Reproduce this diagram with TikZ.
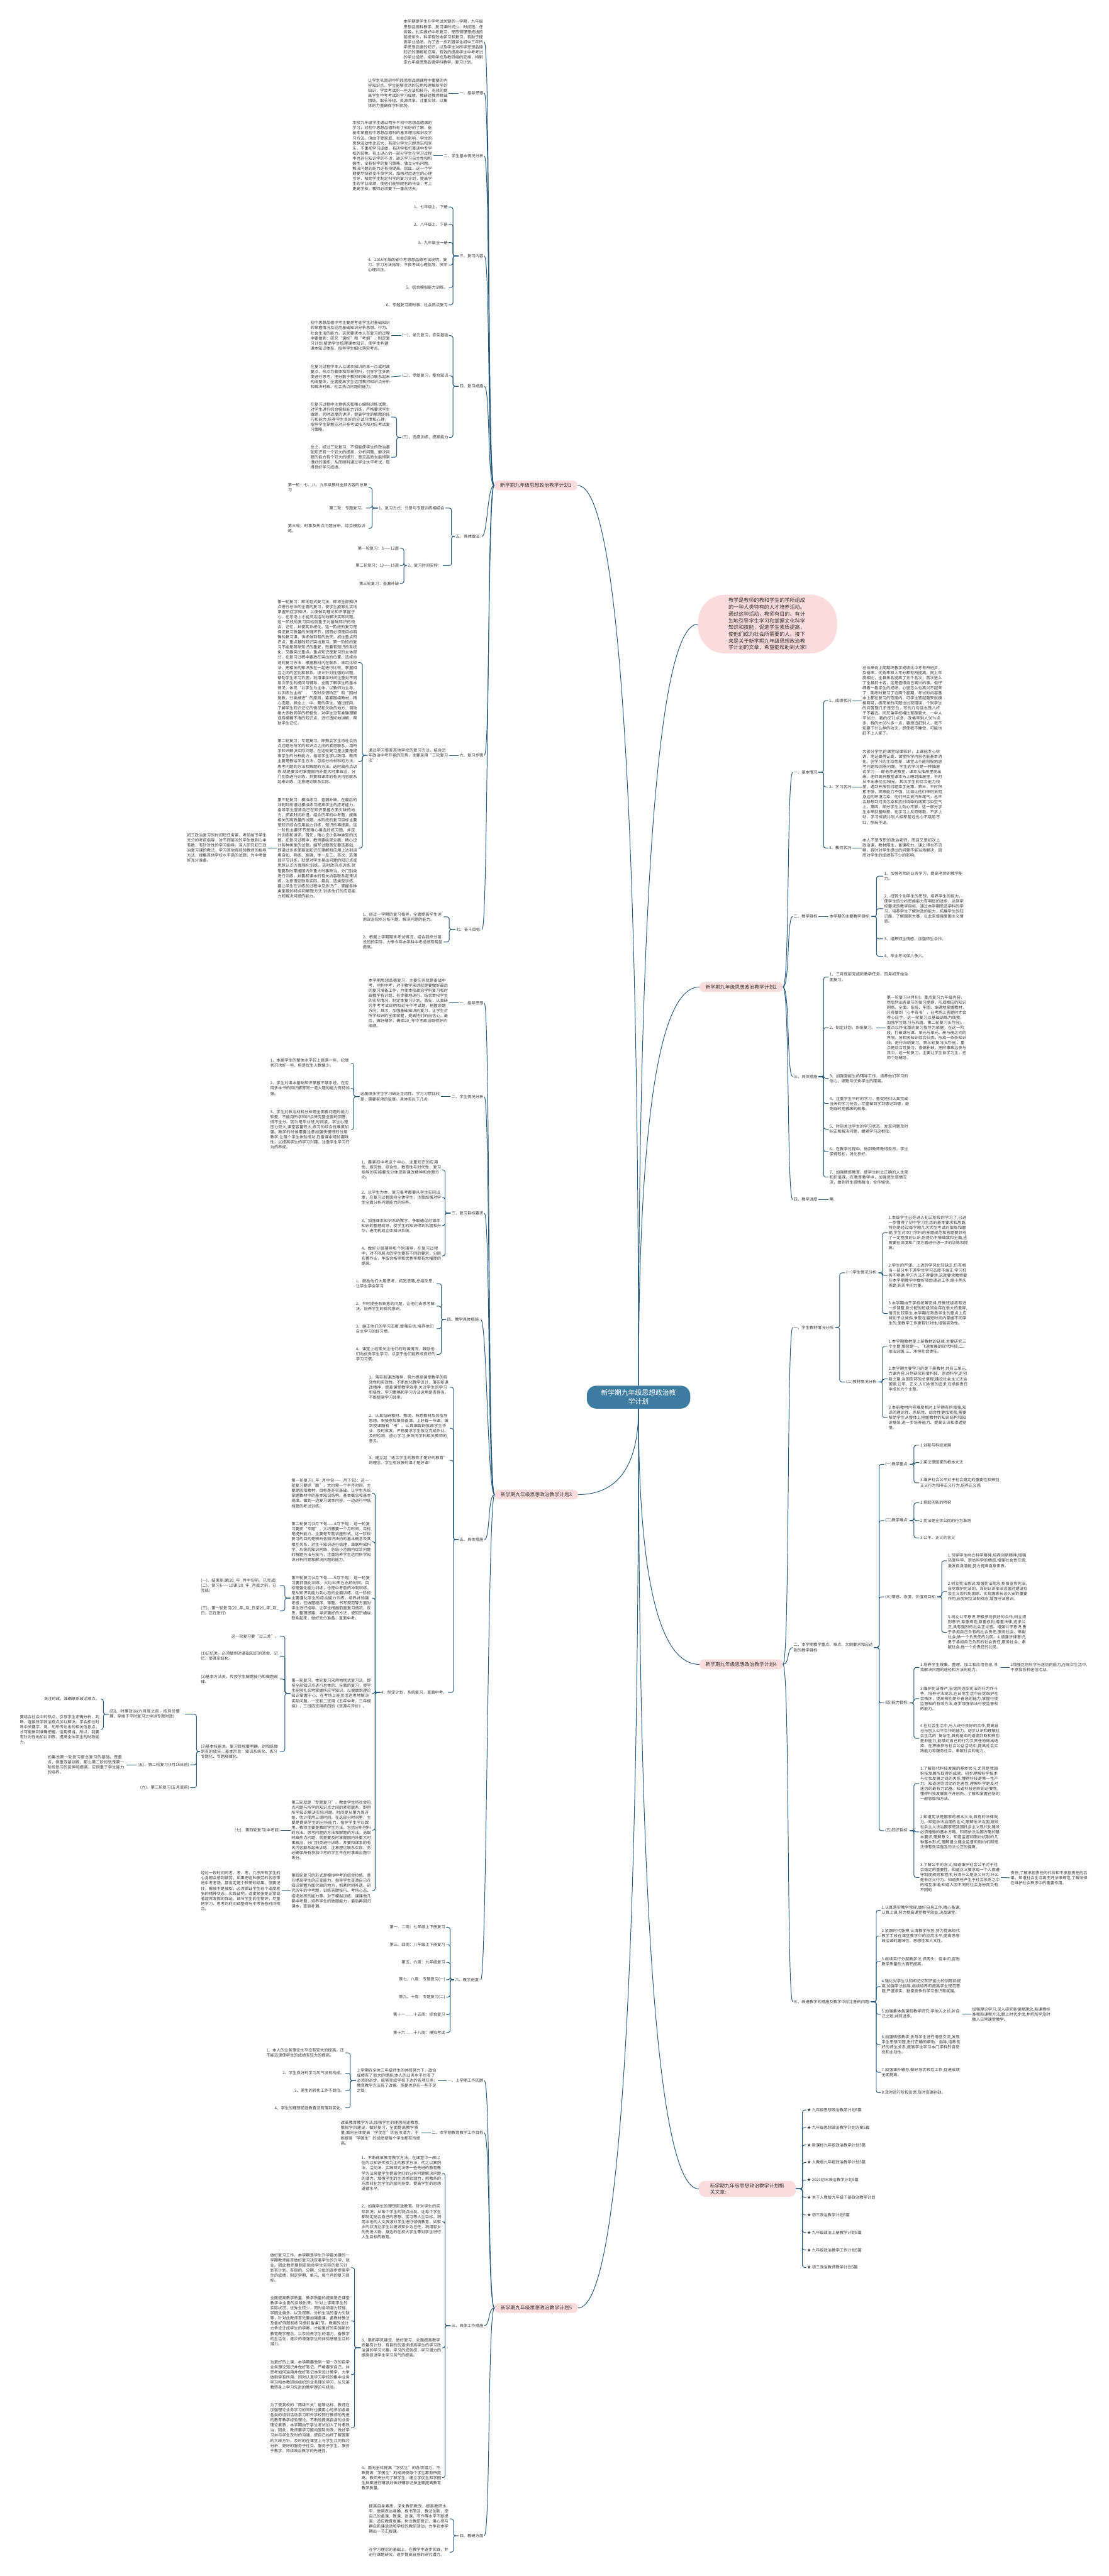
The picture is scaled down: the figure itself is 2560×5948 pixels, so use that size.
\documentclass[tikz,border=0pt]{standalone}
\usepackage{fontspec}
\newfontfamily\cjk{Noto Sans CJK SC}
\XeTeXlinebreaklocale "zh"
\XeTeXlinebreakskip = 0pt plus 1pt
\definecolor{ink}{HTML}{333333}
\definecolor{linec}{HTML}{23577A}
\definecolor{rootc}{HTML}{3E7BA1}
\definecolor{pinkc}{HTML}{FBDCDC}
\tikzset{
  txt/.style={font=\cjk\fontsize{9.15}{11.7}\selectfont, text=ink, inner sep=2pt},
  blk/.style={txt, text width=#1, align=left},
  blk/.default=184pt,
  plan/.style={fill=pinkc, rounded corners=10pt, text=ink, font=\cjk\fontsize{11.3}{14}\selectfont, inner xsep=14pt, inner ysep=6pt},
  rootbox/.style={fill=rootc, text=white, align=center, font=\cjk\fontsize{15.7}{20.4}\selectfont, inner xsep=33pt, inner ysep=9pt, rounded corners=22pt},
  bubble/.style={fill=pinkc, text=ink, align=left, font=\cjk\fontsize{11.8}{15.5}\selectfont, inner xsep=70pt, inner ysep=8pt, rounded corners=62pt},
  link/.style={draw=linec, line width=1.4pt},
  brk/.style={link, rounded corners=5pt},
}
\begin{document}
\begin{tikzpicture}[x=1pt,y=-1pt]
\useasboundingbox[fill=white] (0,0) rectangle (2560,5948);

% centre and main branches
\node[rootbox] (root) at (1474,3226) {新学期九年级思想政治教\\学计划};
\node[bubble] (intro) at (1772,1441) {教学是教师的教和学生的学所组成\\的一种人类特有的人才培养活动。\\通过这种活动，教师有目的、有计\\划地引导学生学习和掌握文化科学\\知识和技能，促进学生素质提高，\\使他们成为社会所需要的人。接下\\来是关于新学期九年级思想政治教\\学计划的文章，希望能帮助到大家!};
\node[plan] (pA) at (1237,1121) {新学期九年级思想政治教学计划1};
\node[plan] (pB) at (1711,2279) {新学期九年级思想政治教学计划2};
\node[plan] (pC) at (1238,3451) {新学期九年级思想政治教学计划3};
\node[plan] (pD) at (1711,3843) {新学期九年级思想政治教学计划4};
\node[plan] (pE) at (1238,5329) {新学期九年级思想政治教学计划5};
\node[plan, anchor=west, text width=172pt, align=left, inner xsep=26pt, rounded corners=14pt] (rel) at (1613,5054) {新学期九年级思想政治教学计划相关文章:};

\draw[link] (root.north) .. controls (1474,2056) and (1520,1441) .. (intro.west);
\draw[link] (root.north) .. controls (1474,1848) and (1428,1121) .. (pA.east);
\draw[link] (root.north) .. controls (1474,2600) and (1520,2279) .. (pB.west);
\draw[link] (root.south) .. controls (1474,3382) and (1428,3451) .. (pC.east);
\draw[link] (root.south) .. controls (1474,3637) and (1520,3843) .. (pD.west);
\draw[link] (root.south) .. controls (1474,4424) and (1520,5054) .. (rel.west);
\draw[link] (root.south) .. controls (1474,4603) and (1428,5329) .. (pE.east);

% plan 1
\node[blk, anchor=east] (a0) at (1118,97) {本学期是学生升学考试关键的一学期，九年级思想品德科教学、复习课时间少、时间短、任务紧。扎实搞好中考复习，是取得理想成绩的前提条件，科学有效地学习和复习，有助于提高学业成绩。为了进一步巩固学生初中三年所学思想品德的知识，以及学生对所学思想品德知识的理解和应用，有效的提高学生中考考试的学业成绩，按照学校及教研组的安排，特制定九年级思想品德学科教学、复习计划。};
\node[txt, anchor=east] (a1) at (1118,215) {一、指导思想};
\node[blk, anchor=east] (a1t) at (1036,215) {让学生巩固初中阶段思想品德课程中重要的内容知识点，学生能够灵活的应用和理解所学的知识，学会考试的一些方法和技巧，有效的提高学生中考考试的学习成绩。教研组教师精诚团结、取长补短、资源共享、注重实效，以集体的力量确保学科优势。};
\node[txt, anchor=east] (a2) at (1118,360) {二、学生基本情况分析};
\node[blk, anchor=east] (a2t) at (1000,360) {本校九年级学生通过两年半初中思想品德课的学习，对初中思想品德科有了较好的了解，能基本掌握初中思想品德科的基本理论知识及学习方法。但由于受家庭、社会的影响，学生的思想波动性比较大，有部分学生只顾贪玩和享乐，不重视学习成绩，有厌学和打算读中专学校的现象。有上进心的一部分学生在学习过程中也存在知识学的不活，缺乏学习自主性和积极性，没有科学的复习策略，独立分析问题、解决问题的能力还有待提高。因此，这一个学期要尽快转变不良学风，加强对后进生的心理引导，帮助学生制定科学的复习计划，提高学生的学业成绩，使他们能够顺利的毕业，考上更高学校，教师必须要下一番苦功夫。};
\node[txt, anchor=east] (a3) at (1118,591) {三、复习内容};
\node[txt, anchor=east] (a31) at (1036,478) {1、七年级上、下册};
\node[txt, anchor=east] (a32) at (1036,518) {2、八年级上、下册};
\node[txt, anchor=east] (a33) at (1036,560) {3、九年级全一册};
\node[blk, anchor=east] (a34) at (1036,612) {4、2015年海南省中考思想品德考试说明，复习、学习方法指导，不良考试心理指导，厌学心理纠正。};
\node[txt, anchor=east] (a35) at (1036,664) {5、综合模拟能力训练。};
\node[txt, anchor=east] (a36) at (1036,704) {6、专题复习和时事、社会热点复习};
\node[txt, anchor=east] (a4) at (1118,892) {四、复习措施};
\node[txt, anchor=east] (a41) at (1037,775) {(一)、单元复习，夯实基础};
\node[blk, anchor=east] (a41t) at (903,775) {初中思想品德中考主要是考查学生对基础知识的掌握情况及应用基础知识分析思想、行为、社会生活的能力。这就要求本人在复习的过程中要做到：研究“课标”和“考纲”，制定复习计划;帮助学生梳理课本知识，使学生构建课本知识体系，指导学生细化落实考点。};
\node[txt, anchor=east] (a42) at (1037,868) {(二)、专题复习，整合知识};
\node[blk, anchor=east] (a42t) at (903,870) {在复习过程中本人以课本知识的某一点或时政要点、热点为载体和背景材料，引导学生多角度进行思考，把分散于教材的知识点联系起来构成整体，全面提高学生运用教材知识点分析和解决时政、社会热点问题的能力。};
\node[txt, anchor=east] (a43) at (1037,1010) {(三)、适度训练，提高能力};
\node[blk, anchor=east] (a43a) at (903,963) {在复习过程中注意挑选和精心编制训练试题，对学生进行综合模拟能力训练，严格要求学生做题，同时适度的讲评，提高学生的解题的技巧和能力;培养学生良好的应试习惯和心理，指导学生掌握应对开卷考试技巧和对应考试复习策略。};
\node[blk, anchor=east] (a43b) at (903,1056) {总之，经过三轮复习，不但能使学生的政治基础知识有一个较大的提高，分析问题、解决问题的能力有个较大的提升，意志品质也能得到很好的锻炼，从而顺利通过学业水平考试，取得良好学习成绩。};
\node[txt, anchor=east] (a5) at (1112,1239) {五、具体做法:};
\node[txt, anchor=east] (a51) at (1028,1173) {1、复习方式：分册与专题训练相结合};
\node[blk, anchor=east] (a511) at (851,1126) {第一轮：七、八、九年级教材全部内容的总复习};
\node[txt, anchor=east] (a512) at (845,1173) {第二轮：专题复习。};
\node[blk, anchor=east] (a513) at (851,1220) {第三轮：时事及热点问题分析，综合模拟训练。};
\node[txt, anchor=east] (a52) at (1022,1306) {2、复习时间安排：};
\node[txt, anchor=east] (a521) at (923,1266) {第一轮复习：3——12周};
\node[txt, anchor=east] (a522) at (923,1306) {第二轮复习：13——15周};
\node[txt, anchor=east] (a523) at (923,1347) {第三轮复习：查漏补缺};
\node[txt, anchor=east] (a6) at (1118,1744) {六、复习步骤};
\node[blk, anchor=east] (a6t) at (1037,1744) {通过学习借鉴其他学校的复习方法，结合近年政治中考开卷的形势，主要采用“三轮复习法”：};
\node[blk, anchor=east] (a61) at (827,1530) {第一轮复习：即地毯式复习法，即将全部知识点进行总体的全面的复习，使学生能够扎实地掌握所应学知识，以便做到理论知识掌握于心，在考场上才能灵活运动地解决实际问题。这一阶段的复习目标侧重于对基础知识的领会、记忆，并使其系统化。这一阶段的复习是保证复习质量的关键环节，因而必须是目标明确的复习课，讲练做到有的放矢。抓住重点知识点，重点基础知识突出复习。第一阶段的复习不能是简单知识的重复，既要有知识的系统化，又要突出重点。重点知识是复习的主体部分，在复习过程中要放在突出的位置。选择合适的复习方法：根据教材内在联系，采用比较法，把相关的知识放在一起进行比较，掌握相互之间的区别和联系。设计针对性强的试题，帮助学生练习巩固，利用课余时间注重对不同层次学生的提问与辅导，全面了解学生的基本情况，体现“以学生为主体，以教师为主导，以训练为主线”，“及时反馈矫正”和“因材施教，分类推进”的原则，紧紧围绕教材，精心选题，顾全上、中、差的学生。通过提问，了解学生知识记忆的情况和欠缺的地方，调动绝大多数同学的积极性，对学生没有准确理解或有模糊不清的知识点，进行透彻地讲解，帮助学生记忆。};
\node[blk, anchor=east] (a62) at (827,1758) {第二轮复习：专题复习。即教会学生将社会热点问题与所学的知识点之间的紧密联系，用所学知识解决实际问题。在这轮复习里主要是提高学生的分析能力，指导学生学以致用。教师主要是教给学生方法，包括分析材料的方法，思考问题的方法和解题的方法。选时政热点训练.就是要及时掌握国内外重大时事政治，分门别类进行训练，并要和课本的有关内容联系起来训练，注意理论联系实际。};
\node[blk, anchor=east] (a63) at (827,1958) {第三轮复习：模拟练习、查漏补缺。在最后的冲刺阶段通过模拟练习提高学生的应考能力，指导学生查清自己在知识掌握方面欠缺的地方，抓紧时间补遗。结合历年的中考题，搜集相关的高质量的试题。本阶段的复习目标主要是知识综合应用能力训练，知识的再提高。这一阶段主要环节是精心编选好练习题，并定时训练和讲评。首先，精心设计各种类型的试题。在复习过程中，教师要纵观全面，精心设计各种类型的试题。编写试题首先要选基础，即通过多练使基础知识在理解和应用上达到运用自如、熟练、准确，举一反三。其次，选薄弱环节训练，就是对学生易出问题的知识点或思想认识方面强化训练。选时政热点训练.就是要及时掌握国内外重大时事政治，分门别类进行训练，并要和课本的有关内容联系起来训练，注意理论联系实际。最后，选类型训练，要让学生在训练的过程中见多识广，掌握各种类型题的特点和解题方法.训练他们的应变能力和解决问题的能力。};
\node[blk, anchor=east] (a63t) at (618,1958) {初三政治复习的时间短任务紧，考前给予学生充分的考前指导，对不同层次的学生做到心中有数，有针对性的学习指导。深入研究初三政治复习课的教法，学习其他有经验教师的指导方法，搜集其他学校水平高的试题，为中考做好充分准备。};
\node[txt, anchor=east] (a7) at (1113,2146) {七、奋斗目标:};
\node[blk, anchor=east] (a71) at (1024,2117) {1、经过一学期的复习指导，全面提高学生运用政治观点分析问题、解决问题的能力。};
\node[blk, anchor=east] (a72) at (1024,2175) {2、根据上学期期末考试情况，结合我校分层设班的实际，力争今年本学科中考成绩有明显提高。};

\foreach \c in {a0,a1,a2,a3,a4,a5,a6,a7}
  \draw[link] (pA.west) .. controls +(-16,0) and +(14,0) .. (\c.east);
\draw[link] (a1.west) -- (a1t.east);
\draw[link] (a2.west) -- (a2t.east);
\foreach \c in {a31,a32,a33,a34,a35,a36}
  \draw[brk] (a3.west) -- ++(-13,0) |- (\c.east);
\foreach \c in {a41,a42,a43}
  \draw[brk] (a4.west) -- ++(-13,0) |- (\c.east);
\draw[link] (a41.west) -- (a41t.east);
\draw[link] (a42.west) -- (a42t.east);
\foreach \c in {a43a,a43b}
  \draw[brk] (a43.west) -- ++(-10,0) |- (\c.east);
\foreach \c in {a51,a52}
  \draw[brk] (a5.west) -- ++(-8,0) |- (\c.east);
\foreach \c in {a511,a512,a513}
  \draw[brk] (a51.west) -- ++(-13,0) |- (\c.east);
\foreach \c in {a521,a522,a523}
  \draw[brk] (a52.west) -- ++(-7,0) |- (\c.east);
\draw[link] (a6.west) -- (a6t.east);
\foreach \c in {a61,a62,a63}
  \draw[brk] (a6t.west) -- ++(-12,0) |- (\c.east);
\draw[link] (a63.west) -- (a63t.east);
\foreach \c in {a71,a72}
  \draw[brk] (a7.west) -- ++(-14,0) |- (\c.east);

% plan 2
\node[txt, anchor=west] (b1) at (1830,1783) {一、基本情况};
\node[txt, anchor=west] (b11) at (1912,1618) {1、成绩状况};
\node[blk, anchor=west] (b11t) at (1989,1618) {总体来说上期期终教学成绩比中考有所进步，及格率、优秀率和人平分都有所提高。同上年度相比，全县排名提高了五个名次，首次进入了全县前十名，这是值得自己高兴的事。但仔细看一看学生的成绩，心里怎么也高兴不起来了：期考时复习了近两个星期，考试的内容基本上都在复习的范围内，可学生答起题来就模棱两可，极简单的问题也出现错误，个别学生的问答题几乎是空白，写的几句话也是八杆子不着边。同兄弟学校相比差距更大，一中人平86分，我的仅71点多，及格率别人96\%点多，我的才80\%多一点，要想追赶别人，我不知要下什么样的功夫，即使我不睡觉，可能也赶不上人家了。};
\node[txt, anchor=west] (b12) at (1912,1817) {2、学习状况};
\node[blk, anchor=west] (b12t) at (1989,1817) {大部分学生的课堂纪律较好，上课能专心听讲，笔记做得认真，课堂所学内容也能基本消化。但学习的主动性差，课堂上不能积极地思考问题和回答问题。学生的学习是一种抽屉式学习——即老师进教室，课本从抽屉里爬出来，老师离开教室课本马上睡到抽屉里，平时从不出来见见阳光。其次学生的综合能力较差，遇到开放性问题束手无策。第三，平时积累不够，观察能力不强，比如让他们举例说明身边的环境污染，他们只会说汽车尾气，总不会联想到河流污染和农村烧柴的烟雾污染空气上。第四，部分学生上劲心不够，这一部分学生本来就基础差，在学习上反而懒散，不求上劲，学习成绩比别人相差甚远也心不跳脸不红，照玩不误。};
\node[txt, anchor=west] (b13) at (1912,1958) {3、教师状况};
\node[blk, anchor=west] (b13t) at (1989,1958) {本人不是专职的政治老师，而且又是初次上政治课，教材陌生，备课吃力，课上得也不流畅，有时对学生提出的问题不能当场解决，因而对学生的成绩有不少的影响。};
\node[txt, anchor=west] (b2) at (1830,2116) {二、教学目标};
\node[txt, anchor=west] (b2t) at (1913,2116) {本学期的主要教学目标:};
\node[blk, anchor=west] (b21) at (2039,2023) {1、加强老师的业务学习，提高老师的教学能力。};
\node[blk, anchor=west] (b22) at (2039,2098) {2、扭转个别学生的思想，培养学生的能力，使学生的分析思维能力有明显的进步，达到学校要求的教学目标，通过本学期思品学科的学习，培养学生了解时政的能力，拓展学生的知识面，了解国家大事，以此来增强爱国主义情感。};
\node[txt, anchor=west] (b23) at (2039,2168) {3、培养师生情感，加强师生合作。};
\node[txt, anchor=west] (b24) at (2039,2208) {4、毕业考试保八争六。};
\node[txt, anchor=west] (b3) at (1830,2486) {三、具体措施};
\node[blk, anchor=west] (b31) at (1913,2256) {1、三月底前完成新教学任务，四月初开始全面复习。};
\node[txt, anchor=west] (b32) at (1913,2373) {2、制定计划，系统复习。};
\node[blk, anchor=west] (b32t) at (2045,2373) {第一轮复习(4月份)。重点复习九年级内容，然后列出各章节的复习提纲，形成相应的知识网络，全面、系统、牢固、准确地掌握教材，只有做到“心中有书”，在考场上答题时才会得心应手。这一轮复习以基础训练为线索，加强学生练习与巩固。第二轮复习(5月份)。重点以怀化版的复习指导为依据，在这一阶段，打破课与课、单元与单元、册与册之间的界限，将相关知识综合归类，形成一条条知识线，进行归纳复习。第三轮复习(6月份)。重点是综合性复习，查漏补缺，把时事政治参与其中。这一轮复习，主要让学生自学为主，老师个别辅导。};
\node[blk, anchor=west] (b33) at (1913,2490) {3、加强潜能生的辅导工作，培养他们学习的信心，缩短与优秀学生的距离。};
\node[blk, anchor=west] (b34) at (1913,2548) {4、注重学生平时的学习，督促他们认真完成当天的学习任务，尽量做到学到哪记到哪，避免临时抱佛脚的现象。};
\node[blk, anchor=west] (b35) at (1913,2607) {5、时刻关注学生的学习状态，发现问题及时纠正和解决问题，绷紧学习这根弦。};
\node[blk, anchor=west] (b36) at (1913,2659) {6、在教学过程中，做到教师教得自然，学生学得轻松，消化良好。};
\node[blk, anchor=west] (b37) at (1913,2718) {7、加强情感教育，使学生树立正确的人生观和价值观。在教育教学中，加强师生感情交流，做到师生感情融洽，合作愉快。};
\node[txt, anchor=west] (b4) at (1830,2770) {四、教学进度};
\node[txt, anchor=west] (b4t) at (1913,2770) {略};

\foreach \c in {b1,b2,b3,b4}
  \draw[link] (pB.east) .. controls +(16,0) and +(-14,0) .. (\c.west);
\foreach \c in {b11,b12,b13}
  \draw[brk] (b1.east) -- ++(12,0) |- (\c.west);
\draw[link] (b11.east) -- (b11t.west);
\draw[link] (b12.east) -- (b12t.west);
\draw[link] (b13.east) -- (b13t.west);
\draw[link] (b2.east) -- (b2t.west);
\foreach \c in {b21,b22,b23,b24}
  \draw[brk] (b2t.east) -- ++(12,0) |- (\c.west);
\foreach \c in {b31,b32,b33,b34,b35,b36,b37}
  \draw[brk] (b3.east) -- ++(12,0) |- (\c.west);
\draw[link] (b32.east) -- (b32t.west);
\draw[link] (b4.east) -- (b4t.west);

% plan 4
\node[txt, anchor=west] (d1) at (1830,3065) {一、学生教材情况分析:};
\node[txt, anchor=west] (d11) at (1951,2939) {(一)学生情况分析:};
\node[blk, anchor=west] (d111) at (2049,2846) {1.本级学生已经进入初三阶段的学习了,已进一步懂得了初中学习生活的基本要求和思路,特别是经过每学期几次大型考试的锻炼和磨砺,学生对本门学科的答题规范和答题要领有了一定程度的认识,但是仍不够细致和全面,还需要在深度和广度方面进行进一步的训练和提高。};
\node[blk, anchor=west] (d112) at (2049,2945) {2.学生的严谨、上进的学风比较缺乏,仍有相当一部分中下游学生学习态度不端正,学习任务不明确,学习方法不得要领,这就要求教师要在本学期教学中做好转后递进工作,缩小两头差距,充实中间力量。};
\node[blk, anchor=west] (d113) at (2049,3033) {3.本学期由于学校统筹安排,所教班级将有进一步调整,新分配的班级间会存在很大的差异,情况比较陌生,本学期在熟悉学生的重点上应特别予以倾斜,争取在最短时间内掌握不同学生的,使教学工作更有针对性,增强实效性。};
\node[txt, anchor=west] (d12) at (1951,3191) {(二)教材情况分析:};
\node[blk, anchor=west] (d121) at (2049,3109) {1.本学期教材是上册教材的延续,主要研究三个主题,那就是一、飞速发展的现代科技;二、依法治国;三、承担社会责任。};
\node[blk, anchor=west] (d122) at (2049,3184) {2.本学期主要学习的是下册教材,共有三单元,六课内容,分别研究热爱科技、崇尚科学,走创新之路;治国安邦的总章程;建设社会主义法治国家;公平、正义,人们永恒的追求;在承担责任中成长六个主题。};
\node[blk, anchor=west] (d123) at (2049,3273) {3.本册教材内容难度相对上学期有所增强,知识的理论性、系统性、综合性更加紧密,需要帮助学生从整体上把握教材的知识结构和知识框架,进一步培养能力、提高认识和渗透觉悟。};
\node[blk=183pt, anchor=west] (d2) at (1830,3804) {二、本学期教学重点、难点、大纲要求和应达到的教学目标};
\node[txt, anchor=west] (d21) at (2041,3381) {(一)教学重点:};
\node[txt, anchor=west] (d211) at (2122,3337) {1.创新与科技发展};
\node[txt, anchor=west] (d212) at (2122,3377) {2.宪法是国家的根本大法};
\node[blk, anchor=west] (d213) at (2122,3424) {3.维护社会公平对于社会稳定的重要性和辨别正义行为和非正义行为,培养正义感};
\node[txt, anchor=west] (d22) at (2041,3511) {(二)教学难点:};
\node[txt, anchor=west] (d221) at (2122,3470) {1.搭起创新的桥梁};
\node[txt, anchor=west] (d222) at (2122,3511) {2.宪法是全体公民的行为准则};
\node[txt, anchor=west] (d223) at (2122,3551) {3.公平、正义的含义};
\node[txt, anchor=west] (d23) at (2041,3687) {(三)情感、态度、价值观目标:};
\node[blk, anchor=west] (d231) at (2186,3604) {1.引导学生树立科学精神,培养创新精神,增强热爱科学、崇尚科学的情感,增强社会责任感,激发自身潜能,努力提高自身素质。};
\node[blk, anchor=west] (d232) at (2186,3675) {2.树立宪法意识,增强宪法观念,积极宣传宪法,自觉维护宪法的，深刻认识依法治国对建设社会主义现代化国家、实现国家长治久安的重要作用,自觉树立法制观念,增强守法意识。};
\node[blk, anchor=west] (d233) at (2186,3769) {3.树立公平意识,积极参与良好的合作,树立规则意识,尊重规则,尊重权利,尊重法律,追求公正,具有强烈的社会正义感。增强公平意识,勇于承担自己负有的社会责任,服务社会、奉献社会,做一个负责任的公民。4.增强法律意识,勇于承担自己负有的社会责任,服务社会、奉献社会,做一个负责任的公民。};
\node[txt, anchor=west] (d24) at (2041,3932) {(四)能力目标:};
\node[blk, anchor=west] (d241) at (2122,3850) {1.培养学生搜集、整理、加工和应用信息,寻找解决问题的途径和方法的能力。};
\node[blk=178pt, anchor=west] (d241t) at (2331,3850) {2增强区别科学与迷信的能力,在现实生活中,不参加各种迷信活动。};
\node[blk, anchor=west] (d242) at (2122,3922) {3.维护宪法尊严,自觉同违反宪法的行为作斗争，培养守法观念,在日常生活中自觉维护社会秩序，提高辨别是非善恶的能力,掌握行使监督权的有效方法,逐步增强依法行使监督权的能力。};
\node[blk, anchor=west] (d243) at (2122,4014) {4.在社会生活中,与人进行良好的合作,提高自己与别人公平合作的能力。初步认识和理解社会生活的`复杂性,具有基本的道德判断和辨别是非能力,能够对自己的行为负责任地做出选择，在积极参与社会公益活动中,提高社会实践能力和服务社会、奉献社会的能力。};
\node[txt, anchor=west] (d25) at (2041,4227) {(五)知识目标:};
\node[blk, anchor=west] (d251) at (2122,4118) {1.了解现代科技发展的基本状况,尤其是我国科技发展所取得的成就。初步理解科学技术与社会发展之间的关系,懂得科技是第一生产力。知道迷信活动的危害性,理解科学是反对迷信的最有力武器。知道科技创新的必要性,懂得科技发展离不开创新，了解和掌握创新的一般思维和方法。};
\node[blk, anchor=west] (d252) at (2122,4230) {2.知道宪法是国家的根本大法,具有的法律效力。知道依法治国的含义,理解依法治国,建设社会主义法治国家是我国社会主义现代化建设必须遵循的基本方略，知道依法治国方略的基本要求,理解意义。知道监督和制约机制的几种基本形式,理解建立健全监督和制约机制是法律有效实施及司法公正的保障。};
\node[blk, anchor=west] (d253) at (2122,4335) {3.了解公平的含义,知道维护社会公平对于社会稳定的重要性。知道正义要求每一个人都遵守制度规则和程序,分清什么是正义行为,什么是非正义行为。知道责任产生于社会关系之中的相互承诺,知道人因不同的社会身份而负有不同的};
\node[blk=178pt, anchor=west] (d253t) at (2331,4336) {责任,了解承担责任的代价和不承担责任的后果。知道社会生活离不开法律规范,了解法律在维护社会秩序中的重要作用。};
\node[txt, anchor=west] (d3) at (1830,4622) {三、改进教学的措施及教学中应注意的问题:};
\node[blk, anchor=west] (d31) at (2033,4411) {1.认真落实教学常规,做好自身工作,精心备课,认真上课,努力提高课堂教学效益,决战课堂。};
\node[blk, anchor=west] (d32) at (2033,4470) {2.紧跟时代脉搏,认清教学形势,努力提高现代教学手段在课堂教学中的应用水平,提高思想政治课的趣味性、思想性和人文性。};
\node[blk, anchor=west] (d33) at (2033,4529) {3.继续实行分层教学法,抓两头、促中间,促进教学质量的大面积提高。};
\node[blk, anchor=west] (d34) at (2033,4587) {4.强化对学生认知和记忆知识能力的训练和提高,加强学法指导,继续培养和提高学生规范答题,严谨求实、勤奋竞争的学习意识和氛围。};
\node[blk, anchor=west] (d35) at (2033,4651) {5.加强集体备课和教学研究,学他人之长,补自己之短,共同进步。};
\node[blk=182pt, anchor=west] (d35t) at (2242,4651) {加强理论学习,深入研究新课程理念,新课程标准和新课程方法,跟上时代步伐,并把所学及时融入日常课堂教学。};
\node[blk, anchor=west] (d36) at (2033,4721) {6.加强情感教学,多与学生进行情感交流,发现学生思想问题,进行正确的帮助、指导,培养良好的师生关系,提高学生学习本门学科的自觉性和主动性。};
\node[blk, anchor=west] (d37) at (2033,4785) {7.加强课外辅导,做好培优转后工作,促进成绩全面提高。};
\node[txt, anchor=west] (d38) at (2033,4832) {8.及时进行阶段反馈,及时查漏补缺。};

\foreach \c in {d1,d2,d3}
  \draw[link] (pD.east) .. controls +(16,0) and +(-14,0) .. (\c.west);
\foreach \c in {d11,d12}
  \draw[brk] (d1.east) -- ++(10,0) |- (\c.west);
\foreach \c in {d111,d112,d113}
  \draw[brk] (d11.east) -- ++(9,0) |- (\c.west);
\foreach \c in {d121,d122,d123}
  \draw[brk] (d12.east) -- ++(9,0) |- (\c.west);
\foreach \c in {d21,d22,d23,d24,d25}
  \draw[brk] (d2.east) -- ++(12,0) |- (\c.west);
\foreach \c in {d211,d212,d213}
  \draw[brk] (d21.east) -- ++(10,0) |- (\c.west);
\foreach \c in {d221,d222,d223}
  \draw[brk] (d22.east) -- ++(10,0) |- (\c.west);
\foreach \c in {d231,d232,d233}
  \draw[brk] (d23.east) -- ++(10,0) |- (\c.west);
\foreach \c in {d241,d242,d243}
  \draw[brk] (d24.east) -- ++(10,0) |- (\c.west);
\foreach \c in {d251,d252,d253}
  \draw[brk] (d25.east) -- ++(10,0) |- (\c.west);
\draw[link] (d241.east) -- (d241t.west);
\draw[link] (d253.east) -- (d253t.west);
\foreach \c in {d31,d32,d33,d34,d35,d36,d37,d38}
  \draw[brk] (d3.east) -- ++(12,0) |- (\c.west);
\draw[link] (d35.east) -- (d35t.west);

% related articles
\foreach \t [count=\i] in {九年级思想政治教学计划5篇,九年级思想政治教学计划方案5篇,新课标九年级政治教学计划5篇,人教版九年级政治教学计划5篇,2021初三政治教学计划5篇,关于人教版九年级下册政治教学计划,初三政治教学计划5篇,九年级政治上册教学计划5篇,九年级政治教学工作计划5篇,初三政治教师教学计划5篇}
  \node[txt, anchor=west] (r\i) at (1861,{4872+40.4*(\i-1)}) {★ \t};
\foreach \i in {1,...,10}
  \draw[brk] (rel.east) -- ++(15,0) |- (r\i.west);

% plan 3
\node[txt, anchor=east] (c1) at (1118,2316) {一、指导思想};
\node[blk, anchor=east] (c1t) at (1037,2316) {本学期思想品德复习，主要任务就是备战中考，冲刺中考，对于教学来讲就是要做好最后的复习准备工作，为使本校政治学科复习和时政教学有计划、有步骤地进行，结合本校学生的实际情况，制定本复习计划。首先，认真研究中考考试说明和近年中考试题，把握命题方向；其次，加强基础知识的复习，让学生对所学知识的全面掌握，提高他们的自信心。最后，做好辅导，确保20\_年中考政治取得好的成绩。};
\node[txt, anchor=east] (c2) at (1118,2532) {二、学生情况分析};
\node[blk, anchor=east] (c2t) at (1018,2532) {这届很多学生学习缺乏主动性、学习习惯比较差，需要老师的监督。具体有以下几点:};
\node[blk, anchor=east] (c21) at (810,2455) {1、本届学生的整体水平较上届落一些，纪律状况也好一些，但是优生人数偏少。};
\node[blk, anchor=east] (c22) at (810,2513) {2、学生对课本基础知识掌握不够系统，在应用多本书的知识解答同一道大题的能力有待加强。};
\node[blk, anchor=east] (c23) at (810,2608) {3、学生对政治材料分析题全面看问题的能力较差，不能用所学知识点来完整全面的回答，得不全分。因为是毕业班,时间紧，学生心理压力较大,课堂容量较大,练习的综合性难度加强。教学的时候需要注意加强快慢班的分层教学,让每个学生体验成功,在备课中增加趣味性，以提高学生的学习兴趣，注重学生学习行为的养成。};
\node[txt, anchor=east] (c3) at (1118,2801) {三、复习目标要求};
\node[blk, anchor=east] (c31) at (1021,2701) {1、要紧扣中考这个中心，注重知识的应用性、探究性、综合性、教育性与时代性，复习指导的实施要充分体现新课改精神和命题方向。};
\node[blk, anchor=east] (c32) at (1021,2765) {2、以学生为本，复习备考都要从学生实际出发，在复习过程面向全体学生，注重加强对学生全面分析问题能力的培养。};
\node[blk, anchor=east] (c33) at (1021,2830) {3、加强课本知识系统教学，争取通过对课本知识的整理疏导，使学生的知识得到巩固和升华，进而构成立体知识系统。};
\node[blk, anchor=east] (c34) at (1021,2900) {4、做好分层辅导和个别辅导，在复习过程中，对不同层次的学生要有不同的要求，分层布置作业，争取合格率和优秀率都有大幅度的提高。};
\node[txt, anchor=east] (c4) at (1110,3047) {四、教学具体措施:};
\node[blk, anchor=east] (c41) at (1008,2964) {1、鼓励他们大胆思考，拓宽思路,总结反思,让学生学会学习};
\node[blk, anchor=east] (c42) at (1008,3016) {2、平时提些有新意的问题，让他们去思考解决。培养学生的探究意识。};
\node[blk, anchor=east] (c43) at (1008,3068) {3、端正他们的学习态度,增强自信,培养他们自主学习的好习惯。};
\node[blk, anchor=east] (c44) at (1008,3127) {4、课堂上经常关注他们的听课情况，鼓励他们向优秀学生学习，以至于他们能养成良好的学习习惯。};
\node[txt, anchor=east] (c5) at (1118,3555) {五、具体措施};
\node[blk, anchor=east] (c51) at (1038,3203) {1、落实新课改精神，努力提高课堂教学的有效性和实效性。不断优化教学设计，落实新课改精神，提高课堂教学效率;关注学生的学习积极性、学习策略和学习方法运用是否得当，不断提高学习效率。};
\node[blk, anchor=east] (c52) at (1038,3298) {2、认真钻研教材、教纲，熟悉教材及其指导思想，积极参加集体备课，上好每一节课。做到授课胸有“书”。认真细致的批改学生作业，及时收发。严格要求学生独立完成作业。及时检测，虚心学习,多听同学科相关教师的意见，};
\node[blk, anchor=east] (c53) at (1038,3372) {3、建立起“适合学生的教育才是好的教育”的理念，学生有收获的课才是好课!};
\node[txt, anchor=east] (c54) at (1034,3908) {4、制定计划，系统复习，直面中考。};
\node[blk, anchor=east] (c541) at (859,3448) {第一轮复习(\_年\_月中旬——\_月下旬)：这一轮复习要抓“面”，大约需一个半月时间。主要是回扣教材，目标是夯实基础。让学生系统掌握教材中的基本知识结构、基本概念和基本规律。做到一边复习课本内容，一边进行中低档题的考试训练。};
\node[blk, anchor=east] (c542) at (859,3560) {第二轮复习(3月下旬——4月下旬)：这一轮复习要抓“专题”，大约需要一个月时间，目标是提升能力。主要是专题讲座形式。这一阶段复习的目的是辨析各知识块内的基本概念及其相互关系，对主干知识进行梳理，串联构成科学、系统的知识网络，总结小范围内综合问题的解题方法与技巧，注重培养学生运用所学知识分析问题和解决问题的能力。};
\node[blk, anchor=east] (c543) at (859,3690) {第三轮复习(4月下旬——5月下旬)：这一轮复习要抓强化训练，大约30天左右的时间。目标是强化能力训练，也是中考前的冲刺训练，是从知识到能力到心态的全面训练。这一阶段主要强化学生的综合能力训练，培养并加强考感，在做题程序、审题、书写规范等方面对学生进行指导。让学生根据前面复习情况，反思，整理思路，寻求更好的方法，使知识横纵联系起来，做好充分准备，直面中考。};
\node[blk=180pt, anchor=east] (c5431) at (646,3661) {(一)、结束新课(20\_年\_月中旬前，已完成)(二)、复习6——10课(20\_年\_月底之前，已完成)};
\node[blk=180pt, anchor=east] (c5432) at (646,3719) {(三)、第一轮复习(20\_年\_月\_日至20\_年\_月\_日，正在进行)};
\node[blk, anchor=east] (c544) at (859,3910) {第一轮复习。本轮复习采用地毯式复习法，即将全部知识点进行总体的、全面的复习，使学生能够扎实地掌握所应学知识，以便做到理论知识掌握于心，在考场上能灵活运用地解决实际问题。一班和二班用《五年中考，三年模拟》，三班四班用初四的《资源与评价》。};
\node[txt, anchor=east] (c5441) at (646,3778) {这一轮复习要“过三关”。};
\node[blk=180pt, anchor=east] (c5442) at (646,3824) {(1)记忆关。必须做到对基础知识的领会、记忆，使其系统化。};
\node[blk=180pt, anchor=east] (c5443) at (646,3877) {(2)基本方法关。传授学生解题技巧和做题规律。};
\node[blk=180pt, anchor=east] (c5444) at (646,4044) {(3)基本技能关。复习目标要明确，讲和练做到有的放矢。基本宗旨：知识系统化、练习专题化、专题规律化。};
\node[blk=172pt, anchor=east] (c54441) at (427,3958) {(四)、时事政治(六月底之前，按月份整理，穿插于平时复习之中讲专题时政)};
\node[txt, anchor=east] (c544411) at (232,3923) {关注时政，准确联系政治观点。};
\node[blk, anchor=east] (c544412) at (232,3993) {要结合社会中的热点，引导学生正确分析、判断，连接所学政治观点加以解决。学会抓住时政中关键字、词、句所传达出的相关信息点，才可能做到准确把握、运用得当。所以，我要有针对性地加以训练，提高全体学生的时政能力。};
\node[txt, anchor=east] (c54442) at (439,4075) {(五)、第二轮复习(4月15日前)};
\node[blk=180pt, anchor=east] (c54442t) at (292,4075) {如果说第一轮复习是总复习的基础，是重点，侧重双基训练，那么第二阶段就是第一阶段复习的延伸和提高，应侧重于学生能力的培养。};
\node[txt, anchor=east] (c54443) at (439,4128) {(六)、第三轮复习(五月底前)};
\node[blk, anchor=east] (c545) at (859,4226) {第三轮就是“专题复习”。教会学生将社会热点问题与所学的知识点之间的紧密联系，即用所学知识解决实际问题。时间是从第九周开始，估计使用三周时间。在这部分时间里，主要是提高学生的分析能力，指导学生学以致用。教师主要是教给学生方法，包括分析材料的方法、思考问题的方法和解题的方法。选取时政热点问题，就是要及时掌握国内外重大时事政治，分门别类进行训练，并要和课本的有关内容联系起来训练，注意理论联系实际，务必确保所有参加中考的学生不在时事政治题中丢分。};
\node[txt, anchor=east] (c545t) at (648,4226) {(七)、第四轮复习(中考前)};
\node[blk, anchor=east] (c546) at (859,4366) {第四轮复习的形式是模拟中考的综合拉练，意在提高学生的应变能力，指导学生查清自己在知识掌握方面欠缺的地方，抓紧时间补遗。研究历年的中考题，训练答题技巧、考场心态、临场发挥的能力等。对于模拟训练，课课做几套中考题，培养学生的做题能力，最后再回归课本，查缺补漏。};
\node[blk, anchor=east] (c546t) at (650,4366) {经过一段时间的考、考、考，几乎所有学生的心身都会感到疲劳，如果把这种疲劳的状态带进中考考场，那肯定是个较差的结果。但要记住，解放不是放松，必须保证学生有个适度紧张的精神状态。实践证明，适度紧张是正常或者超常发挥的保证。调节学生的生物钟，尽量把学习、思考的时间调整得与中考答卷时间吻合。};
\node[txt, anchor=east] (c6) at (1110,4571) {六、教学进度:};
\node[txt, anchor=east] (c61) at (1030,4450) {第一、二周：七年级上下册复习};
\node[txt, anchor=east] (c62) at (1030,4490) {第三、四周：八年级上下册复习};
\node[txt, anchor=east] (c63) at (1030,4531) {第五、六周：九年级复习};
\node[txt, anchor=east] (c64) at (1030,4571) {第七、八周：专题复习(一)};
\node[txt, anchor=east] (c65) at (1030,4611) {第九、十周：专题复习(二)};
\node[txt, anchor=east] (c66) at (1030,4652) {第十一……十五周：综合复习};
\node[txt, anchor=east] (c67) at (1030,4693) {第十六……十八周：模拟考试};

\foreach \c in {c1,c2,c3,c4,c5,c6}
  \draw[link] (pC.west) .. controls +(-16,0) and +(14,0) .. (\c.east);
\draw[link] (c1.west) -- (c1t.east);
\draw[link] (c2.west) -- (c2t.east);
\foreach \c in {c21,c22,c23}
  \draw[brk] (c2t.west) -- ++(-13,0) |- (\c.east);
\foreach \c in {c31,c32,c33,c34}
  \draw[brk] (c3.west) -- ++(-13,0) |- (\c.east);
\foreach \c in {c41,c42,c43,c44}
  \draw[brk] (c4.west) -- ++(-11,0) |- (\c.east);
\foreach \c in {c51,c52,c53,c54}
  \draw[brk] (c5.west) -- ++(-12,0) |- (\c.east);
\foreach \c in {c541,c542,c543,c544,c545,c546}
  \draw[brk] (c54.west) -- ++(-12,0) |- (\c.east);
\foreach \c in {c5431,c5432}
  \draw[brk] (c543.west) -- ++(-13,0) |- (\c.east);
\foreach \c in {c5441,c5442,c5443,c5444}
  \draw[brk] (c544.west) -- ++(-13,0) |- (\c.east);
\foreach \c in {c54441,c54442,c54443}
  \draw[brk] (c5444.west) -- ++(-8,0) |- (\c.east);
\foreach \c in {c544411,c544412}
  \draw[brk] (c54441.west) -- ++(-12,0) |- (\c.east);
\draw[link] (c54442.west) -- (c54442t.east);
\draw[link] (c545.west) -- (c545t.east);
\draw[link] (c546.west) -- (c546t.east);
\foreach \c in {c61,c62,c63,c64,c65,c66,c67}
  \draw[brk] (c6.west) -- ++(-9,0) |- (\c.east);

% plan 5
\node[txt, anchor=east] (e1) at (1118,4804) {一、上学期工作回顾};
\node[blk, anchor=east] (e1t) at (1010,4804) {上学期在全体三年级师生的共同努力下，政治成绩有了很大的提高;本人的业务水平也有了必须的进步，能够完成学校下达的各项任务;教育教学方法有了改善。但是也存在一些不足之处:};
\node[blk=180pt, anchor=east] (e11) at (797,4740) {1、本人的业务理论水平没有较大的提高，还不能迅速使学生的成绩有较大的提高。};
\node[txt, anchor=east] (e12) at (797,4787) {2、学生良好的学习风气没有构成。};
\node[txt, anchor=east] (e13) at (797,4827) {3、差生的转化工作不到位。};
\node[txt, anchor=east] (e14) at (797,4867) {4、学生的理想前途教育没有落到实处。};
\node[txt, anchor=east] (e2) at (1118,4925) {二、本学期教育教学工作目标};
\node[blk, anchor=east] (e2t) at (973,4925) {改革教育教学方法;加强学生的理想前途教育;狠抓学风建设，做好复习，全面提高教学质量;面向全体提高“学优生”的各项潜力，不断提高“学困生”的成绩使每个学生都有所提高。};
\node[txt, anchor=east] (e3) at (1118,5370) {三、具体工作措施};
\node[blk, anchor=east] (e31) at (1021,5018) {1、不断改革教育教学方法。在课堂中一改以往的以知识传授为主的教学方法，代之以案例法、活动法、实践探究法等一些先进的教育教学方法来使学生提高他们的分析问题解决问题的潜力，增强学生的生活体验潜力，把教条的东西转化为学生的感同身受。提高学生的思想道德水平。};
\node[blk, anchor=east] (e32) at (1021,5130) {2、加强学生的理想前途教育。针对学生的实际状况，从每个学生的特点出发，让每个学生都制定贴合自己的思想、学习等人生目标。利用本地的人文资源对学生进行倾情教育，如家乡的状况让学生以建设家乡为己任，利用家乡的先进人物，身边的在校大学生等对学生进行人生目标的教育。};
\node[blk, anchor=east] (e33) at (1021,5421) {3、狠抓学风建设，做好复习，全面提高教学质量有计划、有目的的逐步提高学生的学习政治课的学习兴趣，学习的成就感，学习潜力的提高促进学生学习风气的提高。};
\node[blk, anchor=east] (e331) at (810,5236) {做好复习工作，本学期是学生升学最关键的一学期教师能否做好复习决定着学生的升学、就业。因此教师要制定贴合学生实际的复习计划有计划、有目的、分期、分批的逐步提高学生的成绩，制定学期、单元、每个月的复习目标。};
\node[blk, anchor=east] (e332) at (810,5359) {全面提高教学质量，教学质量的提高是在课堂教学中全面的反映出来，针对上学期学生的实际状况，优秀生较少，同时各项潜力较弱，学困生偏多，以及观察、分析生活的潜力欠缺等，针对此教师首先要加强备课，备教材教法及备好例题和练习提前备课2节。教案的设计力争设计成学生的学案，才能更好的实施新的教育教学理念。以及培养学生的潜力，备教学的生活化，逐步的增强学生的体验感悟生活的潜力。};
\node[blk, anchor=east] (e333) at (810,5483) {为更好的上课，本学期要做到一周一次的自学业务理论知识并做好笔记，严格要求自己，并思考如何运用并做好笔记本来设计教学，力争做到学有所用，同时认真学习学校的集中业务学习和本教研组组织的业务理论学习，从兄弟教师身上学习先进的教学理论与经验。};
\node[blk, anchor=east] (e334) at (810,5606) {为了使我校的“两级三关”能够达标，教师在加强理论业务学习的同时也要用心的参加各级各类的培训活动学习和外学校同行教师的先进的教育教学经验理论，不断的提高自身的业务理论素质，本学期由于学生考试加入了时事政治，因此，教师要学习国内国际时政，做好学习并与学生及时的沟通，使自己始终了解国家的大政方针，及时的在课堂上与学生共同探讨分析，更好的服务于社会，服务于学生，服务于教学，持续政治教学的先进性。};
\node[blk, anchor=east] (e34) at (1021,5721) {4、面向全体提高“学优生”的各项潜力，不断提高“学困生”的成绩使每个学生都有所提高。教师充分的了解学生，建立学优生和学困生档案进行辅导并做好辅导记录全面提高教育教学质量。};
\node[txt, anchor=east] (e4) at (1118,5855) {四、教研方面};
\node[blk, anchor=east] (e41) at (1038,5816) {提高自身素质，深化教研教改，提高教研水平，做到表达准确、板书简洁、教法创新，使自己的备课、教课、说课、写作等水平不断提高，适应教育发展。树立教研意识，用心参与群众新课活动和学校的教研活动。力争在本学期出一节汇报课。};
\node[blk, anchor=east] (e42) at (1038,5893) {在学习理论的基础上，在教学中逐步实践，并进行课题研究，逐步提高自身的研究潜力。};

\foreach \c in {e1,e2,e3,e4}
  \draw[link] (pE.west) .. controls +(-16,0) and +(14,0) .. (\c.east);
\draw[link] (e1.west) -- (e1t.east);
\foreach \c in {e11,e12,e13,e14}
  \draw[brk] (e1t.west) -- ++(-13,0) |- (\c.east);
\draw[link] (e2.west) -- (e2t.east);
\foreach \c in {e31,e32,e33,e34}
  \draw[brk] (e3.west) -- ++(-13,0) |- (\c.east);
\foreach \c in {e331,e332,e333,e334}
  \draw[brk] (e33.west) -- ++(-14,0) |- (\c.east);
\foreach \c in {e41,e42}
  \draw[brk] (e4.west) -- ++(-12,0) |- (\c.east);
\end{tikzpicture}
\end{document}
